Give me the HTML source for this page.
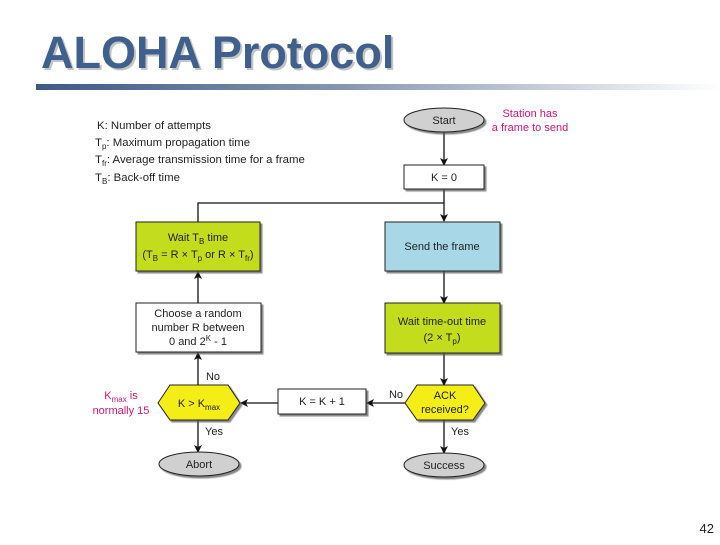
<!DOCTYPE html>
<html><head><meta charset="utf-8"><style>
body{margin:0;width:720px;height:540px;background:#fff;overflow:hidden;font-family:"Liberation Sans",sans-serif}
</style></head><body>
<svg width="720" height="540" viewBox="0 0 720 540" xmlns="http://www.w3.org/2000/svg" font-family="Liberation Sans, sans-serif">
<defs>
<linearGradient id="bar" x1="0" x2="1"><stop offset="0" stop-color="#3d5a86"/><stop offset="0.45" stop-color="#8796b0"/><stop offset="1" stop-color="#ffffff"/></linearGradient>
<marker id="a" markerWidth="8" markerHeight="8" refX="7" refY="4" orient="auto" markerUnits="userSpaceOnUse"><path d="M0,0 L8,4 L0,8 L2,4 z" fill="#111"/></marker>
<filter id="sh"><feDropShadow dx="2" dy="2" stdDeviation="0.6" flood-color="#555" flood-opacity="0.7"/></filter>
</defs>
<text x="43" y="70" font-size="45" font-weight="bold" fill="#c4c4c4">ALOHA Protocol</text>
<text x="41" y="68" font-size="45" font-weight="bold" fill="#3f5f8c">ALOHA Protocol</text>
<rect x="36" y="84" width="684" height="6" fill="url(#bar)"/>

<g font-size="11.4" fill="#222">
<text x="97" y="129">K: Number of attempts</text>
<text x="95" y="146">T<tspan font-size="8" dy="3">p</tspan><tspan dy="-3">: Maximum propagation time</tspan></text>
<text x="95" y="163">T<tspan font-size="8" dy="3">fr</tspan><tspan dy="-3">: Average transmission time for a frame</tspan></text>
<text x="95" y="181">T<tspan font-size="8" dy="3">B</tspan><tspan dy="-3">: Back-off time</tspan></text>
</g>

<g stroke="#111" stroke-width="1.3" fill="none">
<line x1="444" y1="132" x2="444" y2="165" marker-end="url(#a)"/>
<polyline points="444,189 444,221" marker-end="url(#a)"/>
<polyline points="198,222 198,203 444,203"/>
<line x1="444" y1="271" x2="444" y2="303" marker-end="url(#a)"/>
<line x1="444" y1="353" x2="444" y2="385" marker-end="url(#a)"/>
<line x1="444" y1="420" x2="444" y2="453" marker-end="url(#a)"/>
<line x1="405" y1="403" x2="367" y2="403" marker-end="url(#a)"/>
<line x1="278" y1="403" x2="241" y2="403" marker-end="url(#a)"/>
<line x1="198" y1="385" x2="198" y2="353" marker-end="url(#a)"/>
<line x1="198" y1="303" x2="198" y2="272" marker-end="url(#a)"/>
<line x1="198" y1="420" x2="198" y2="452" marker-end="url(#a)"/>
</g>

<g stroke="#222" stroke-width="1" filter="url(#sh)">
<ellipse cx="444" cy="120" rx="40" ry="12" fill="#d0d0d0"/>
<rect x="404" y="165" width="80" height="24" fill="#fff"/>
<rect x="136" y="222" width="124" height="49" fill="#c3dd1e"/>
<rect x="385" y="222" width="115" height="49" fill="#a8d8e8"/>
<rect x="136" y="303" width="125" height="49" fill="#fff"/>
<rect x="385" y="303" width="115" height="50" fill="#c3dd1e"/>
<polygon points="158,403 170,385 228,385 240,403 228,420 170,420" fill="#f4ee12"/>
<rect x="278" y="389" width="88" height="25" fill="#fff"/>
<polygon points="405,403 417,385 473,385 485,403 473,420 417,420" fill="#f4ee12"/>
<ellipse cx="199" cy="464" rx="40" ry="12" fill="#d0d0d0"/>
<ellipse cx="444" cy="465" rx="40" ry="12" fill="#d0d0d0"/>
</g>

<g font-size="11" fill="#222" text-anchor="middle">
<text x="444" y="124">Start</text>
<text x="444" y="181">K = 0</text>
<text x="198" y="241">Wait T<tspan font-size="8" dy="3">B</tspan><tspan dy="-3"> time</tspan></text>
<text x="198" y="258">(T<tspan font-size="8" dy="3">B</tspan><tspan dy="-3"> = R × T</tspan><tspan font-size="8" dy="3">p</tspan><tspan dy="-3"> or R × T</tspan><tspan font-size="8" dy="3">fr</tspan><tspan dy="-3">)</tspan></text>
<text x="442" y="250">Send the frame</text>
<text x="198" y="317">Choose a random</text>
<text x="198" y="331">number R between</text>
<text x="198" y="345">0 and 2<tspan font-size="8" dy="-4">K</tspan><tspan dy="4"> - 1</tspan></text>
<text x="442" y="325">Wait time-out time</text>
<text x="442" y="341">(2 × T<tspan font-size="8" dy="3">p</tspan><tspan dy="-3">)</tspan></text>
<text x="199" y="407">K &gt; K<tspan font-size="8" dy="3">max</tspan></text>
<text x="322" y="405">K = K + 1</text>
<text x="445" y="399">ACK</text>
<text x="445" y="413">received?</text>
<text x="199" y="468">Abort</text>
<text x="444" y="469">Success</text>
<text x="213" y="380">No</text>
<text x="214" y="435">Yes</text>
<text x="396" y="398">No</text>
<text x="460" y="435">Yes</text>
</g>
<g font-size="11" fill="#d0157a" text-anchor="middle">
<text x="530" y="117">Station has</text>
<text x="530" y="131">a frame to send</text>
<text x="121" y="399">K<tspan font-size="8" dy="3">max</tspan><tspan dy="-3"> is</tspan></text>
<text x="121" y="414">normally 15</text>
</g>
<text x="714" y="533" font-size="13" fill="#222" text-anchor="end">42</text>
</svg>
</body></html>
